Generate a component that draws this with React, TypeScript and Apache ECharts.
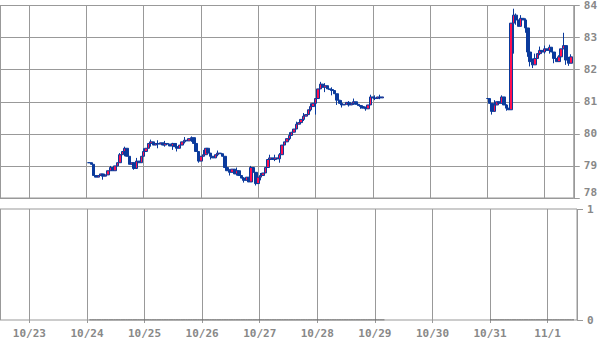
import React, { useEffect, useRef } from "react";
import * as echarts from "echarts";

// hourly closes, segment 1 starts 10/24 01:00
const seg1Start = [2014, 9, 24, 1];
const closes1 = [
  79.10, 79.05, 78.70, 78.65, 78.70, 78.75, 78.68, 78.72, 78.85, 78.95,
  78.85, 79.00, 79.10, 79.35, 79.45, 79.55, 79.30, 79.05, 79.10, 78.92,
  79.15, 79.10, 79.30, 79.45, 79.55, 79.70, 79.75, 79.65, 79.70, 79.68,
  79.72, 79.65, 79.70, 79.68, 79.62, 79.70, 79.60, 79.55, 79.65, 79.75,
  79.80, 79.78, 79.85, 79.88, 79.70, 79.45, 79.15, 79.30, 79.35, 79.55,
  79.40, 79.30, 79.25, 79.35, 79.40, 79.38, 79.30, 78.95, 78.85, 78.80,
  78.90, 78.75, 78.85, 78.70, 78.62, 78.55, 78.65, 78.50, 78.95, 78.80,
  78.45, 78.65, 78.70, 78.78, 78.95, 79.20, 79.25, 79.20, 79.25, 79.22,
  79.35, 79.65, 79.75, 79.85, 79.95, 80.05, 80.15, 80.30, 80.35, 80.45,
  80.55, 80.60, 80.75, 80.85, 80.95, 81.10, 81.40, 81.55, 81.45, 81.50,
  81.40, 81.38, 81.35, 81.25, 81.05, 80.95, 80.90, 80.92, 80.98, 80.90,
  80.95, 81.00, 80.92, 80.88, 80.85, 80.80, 80.78, 80.90, 81.15, 81.12,
  81.10, 81.15, 81.12, 81.15,
];
// [index, low, high] wicks
const wicks1 = [
  [6, 78.57, 78.75], [9, 78.85, 79.00], [13, 79.10, 79.40], [15, 79.30, 79.60],
  [19, 78.88, 79.10], [20, 79.00, 79.25], [23, 79.30, 79.55], [26, 79.60, 79.82],
  [29, 79.55, 79.80], [32, 79.60, 79.78], [35, 79.50, 79.72], [37, 79.45, 79.70],
  [40, 79.70, 79.90], [43, 79.75, 79.92], [46, 79.10, 79.45], [48, 79.30, 79.50],
  [51, 79.20, 79.40], [54, 79.30, 79.48], [59, 78.70, 78.90], [62, 78.70, 78.95],
  [65, 78.48, 78.65], [68, 78.50, 79.00], [70, 78.39, 78.80], [72, 78.55, 78.78],
  [76, 79.15, 79.35], [78, 79.15, 79.35], [80, 79.10, 79.40], [84, 79.80, 80.05],
  [87, 80.15, 80.38], [90, 80.40, 80.65], [93, 80.70, 80.95], [95, 80.60, 81.10],
  [97, 81.40, 81.62], [99, 81.30, 81.58], [102, 81.20, 81.45], [104, 80.90, 81.25],
  [106, 80.82, 81.05], [109, 80.85, 81.02], [111, 80.90, 81.10], [114, 80.78, 80.90],
  [116, 80.72, 80.85], [118, 80.90, 81.22], [120, 81.05, 81.20], [122, 81.08, 81.22],
];

// segment 2 starts 10/31 00:00
const seg2Start = [2014, 9, 31, 0];
const closes2 = [
  81.10, 80.95, 80.70, 80.90, 81.00, 80.95, 81.15, 80.90, 80.80, 80.75,
  83.45, 83.70, 83.55, 83.35, 83.60, 83.55, 83.30, 82.55, 82.25, 82.15,
  82.35, 82.50, 82.60, 82.55, 82.65, 82.60, 82.70, 82.55, 82.35, 82.25,
  82.40, 82.65, 82.75, 82.30, 82.20, 82.40,
];
const wicks2 = [
  [2, 80.60, 80.95], [3, 80.80, 81.05], [6, 81.00, 81.20], [8, 80.72, 80.92],
  [11, 82.50, 83.90], [12, 83.40, 83.75], [14, 83.35, 83.70], [16, 83.15, 83.60],
  [17, 82.40, 83.30], [18, 82.10, 82.55], [19, 82.05, 82.35], [20, 82.15, 82.50],
  [22, 82.45, 82.72], [24, 82.50, 82.75], [26, 82.50, 82.78], [28, 82.20, 82.55],
  [30, 82.30, 82.45], [32, 82.75, 83.15], [33, 82.15, 82.75], [34, 82.12, 82.40],
  [35, 82.20, 82.48],
];

const yTicks = [78, 79, 80, 81, 82, 83, 84];
const volTicks = [0, 1];

const HOUR = 3600 * 1000;

function buildCandles(start: number[], closes: number[], wicks: number[][]) {
  const t0 = new Date(start[0], start[1], start[2], start[3]).getTime();
  const extra: Record<number, number[]> = {};
  wicks.forEach((w) => (extra[w[0]] = [w[1], w[2]]));
  return closes.map((c, i) => {
    const o = i === 0 ? c : closes[i - 1];
    let lo = Math.min(o, c);
    let hi = Math.max(o, c);
    if (extra[i]) {
      lo = Math.min(lo, extra[i][0]);
      hi = Math.max(hi, extra[i][1]);
    }
    return [t0 + i * HOUR, o, c, lo, hi];
  });
}

export default function App() {
  const ref = useRef<HTMLDivElement>(null);
  useEffect(() => {
    if (!ref.current) return;
    const chart = echarts.init(ref.current, null, { renderer: "svg" });
    const c1 = buildCandles(seg1Start, closes1, wicks1);
    const c2 = buildCandles(seg2Start, closes2, wicks2);
    const candles = [...c1, ...c2];
    const vol: any[] = [
      ...c1.map((d) => [d[0], 0]),
      [c1[c1.length - 1][0] + HOUR, null],
      ...c2.map((d) => [d[0], 0]),
    ];
    const xMin = new Date(2014, 9, 22, 11, 45).getTime();
    const xMax = new Date(2014, 10, 1, 12, 15).getTime();
    const gray = "#999";
    const labelColor = "#888";
    const font = "DejaVu Sans Mono";
    const fmt = (v: number) => {
      const d = new Date(v);
      return `${d.getMonth() + 1}/${d.getDate()}`;
    };
    const xCommon = {
      type: "time" as const,
      min: xMin,
      max: xMax,
      minInterval: 24 * HOUR,
      maxInterval: 24 * HOUR,
      splitNumber: 10,
      axisLine: { show: false },
      splitLine: { show: true, lineStyle: { color: gray, width: 1 } },
    };
    const yLabel = {
      color: labelColor,
      fontFamily: font,
      fontWeight: "bold",
      fontSize: 11,
      margin: 10,
    };
    chart.setOption({
      animation: false,
      backgroundColor: "#fff",
      grid: [
        { left: 0, top: 4, width: 577, height: 194, show: true, borderColor: gray, borderWidth: 1, containLabel: false },
        { left: 0, top: 209, width: 577, height: 111, show: true, borderColor: gray, borderWidth: 1, containLabel: false },
      ],
      xAxis: [
        { ...xCommon, gridIndex: 0, axisTick: { show: false }, axisLabel: { show: false } },
        {
          ...xCommon,
          gridIndex: 1,
          axisTick: { show: true, length: 3, lineStyle: { color: gray } },
          axisLabel: {
            show: true,
            formatter: fmt,
            color: labelColor,
            fontFamily: font,
            fontWeight: "bold",
            fontSize: 11,
            margin: 8,
          },
        },
      ],
      yAxis: [
        {
          type: "value",
          gridIndex: 0,
          position: "right",
          min: yTicks[0],
          max: yTicks[yTicks.length - 1],
          interval: 1,
          axisLine: { show: false },
          axisTick: { show: true, length: 6, lineStyle: { color: gray } },
          splitLine: { show: true, lineStyle: { color: gray, width: 1 } },
          axisLabel: { ...yLabel, verticalAlignMinLabel: "bottom" },
        },
        {
          type: "value",
          gridIndex: 1,
          position: "right",
          min: volTicks[0],
          max: volTicks[1],
          interval: 1,
          axisLine: { show: false },
          axisTick: { show: true, length: 6, lineStyle: { color: gray } },
          splitLine: { show: false },
          axisLabel: yLabel,
        },
      ],
      series: [
        {
          type: "candlestick",
          xAxisIndex: 0,
          yAxisIndex: 0,
          data: candles,
          barWidth: 3,
          itemStyle: {
            color: "#ff1050",
            color0: "#0a3a9c",
            borderColor: "#0a3a9c",
            borderColor0: "#0a3a9c",
            borderWidth: 1,
          },
        },
        {
          type: "line",
          xAxisIndex: 1,
          yAxisIndex: 1,
          data: vol,
          showSymbol: false,
          connectNulls: false,
          lineStyle: { color: "#555", width: 1 },
        },
      ],
    });
    return () => chart.dispose();
  }, []);
  return <div ref={ref} style={{ width: 600, height: 340, position: "absolute", left: 0, top: 0 }} />;
}
